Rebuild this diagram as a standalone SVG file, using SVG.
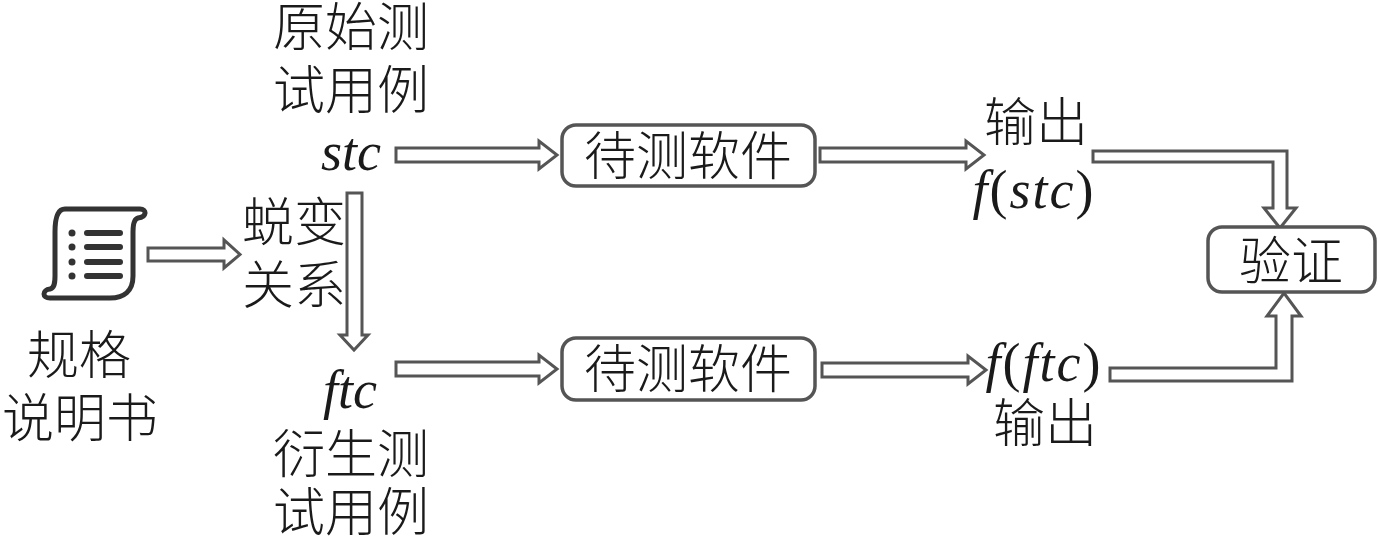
<svg xmlns="http://www.w3.org/2000/svg" width="1380" height="540" viewBox="0 0 1380 540">
<style>
.t{font-family:"Liberation Serif","Noto Sans CJK SC",serif;font-size:52px;fill:#1a1a1a;font-weight:300}
.i{font-family:"Liberation Serif","Noto Sans CJK SC",serif;font-size:54px;fill:#1a1a1a}
.it{font-style:italic}
.m{text-anchor:middle}
.a{fill:#fff;stroke:#555;stroke-width:3;stroke-linejoin:miter}
.b{fill:#fff;stroke:#555;stroke-width:3.5}
.ic{fill:none;stroke:#333;stroke-width:5;stroke-linecap:round;stroke-linejoin:round}
.l{stroke:#333;stroke-width:6;stroke-linecap:round}
</style>
<rect width="1380" height="540" fill="#fff"/>
<g id="connectors">
<polygon class="a" points="148,248 224,248 224,240 240,254.500 224,268 224,261 148,261"/>
<polygon class="a" points="347,193 362,193 362,335 368,335 354,350 340,335 347,335"/>
<polygon class="a" points="396,148 539,148 539,141 557,155 539,169 539,162 396,162"/>
<polygon class="a" points="396,362 539,362 539,355 557,369 539,383 539,376 396,376"/>
<polygon class="a" points="820,148 966,148 966,141 984,155 966,169 966,162 820,162"/>
<polygon class="a" points="822,363 968,363 968,356 986,370 968,384 968,377 822,377"/>
<polygon class="a" points="1093,151 1287,151 1287,208 1296,208 1280,228 1264,208 1273,208 1273,162 1093,162"/>
<polygon class="a" points="1110,368 1276,368 1276,316 1267,316 1284,293 1301,316 1292,316 1292,381 1110,381"/>
</g>
<g id="spec">
<path class="ic" d="M65,209 H140 C147,209 147,217 138,218 C134,219 133,224 133,232 V276 C133,291 124,298 110,298 H50 C42,298 42,290 50,289 C54,288 55,284 55,276 V232 C55,216 58,209 65,209 Z"/>
<circle cx="72" cy="233" r="3.500" fill="#333"/><circle cx="72" cy="247" r="3.500" fill="#333"/><circle cx="72" cy="262" r="3.500" fill="#333"/><circle cx="72" cy="276" r="3.500" fill="#333"/>
<line class="l" x1="87" y1="233" x2="120" y2="233"/><line class="l" x1="87" y1="247" x2="120" y2="247"/><line class="l" x1="87" y1="262" x2="120" y2="262"/><line class="l" x1="87" y1="276" x2="120" y2="276"/>
<text class="t m" x="79" y="374">规格</text>
<text class="t m" x="80" y="437">说明书</text>
</g>
<g id="relation">
<text class="t" x="242" y="241">蜕变</text>
<text class="t" x="242" y="304">关系</text>
</g>
<g id="source-case">
<text class="t m" x="351" y="46">原始测</text>
<text class="t m" x="351" y="109">试用例</text>
<text class="i it m" x="351" y="170">stc</text>
</g>
<g id="followup-case">
<text class="i it m" x="350" y="408">ftc</text>
<text class="t m" x="351" y="473">衍生测</text>
<text class="t m" x="351" y="531">试用例</text>
</g>
<g id="sut-1">
<rect class="b" x="562" y="125" width="253" height="61" rx="14"/>
<text class="t m" x="688" y="175">待测软件</text>
</g>
<g id="sut-2">
<rect class="b" x="562" y="338" width="253" height="62" rx="14"/>
<text class="t m" x="688" y="388">待测软件</text>
</g>
<g id="output-1">
<text class="t m" x="1036" y="141">输出</text>
<text class="i m" x="1034" y="208" letter-spacing="2"><tspan class="it">f</tspan>(<tspan class="it">stc</tspan>)</text>
</g>
<g id="output-2">
<text class="i m" x="1044" y="381" letter-spacing="2"><tspan class="it">f</tspan>(<tspan class="it">ftc</tspan>)</text>
<text class="t m" x="1045" y="442">输出</text>
</g>
<g id="verify">
<rect class="b" x="1208" y="227" width="167" height="65" rx="14"/>
<text class="t m" x="1291" y="280">验证</text>
</g>
</svg>
